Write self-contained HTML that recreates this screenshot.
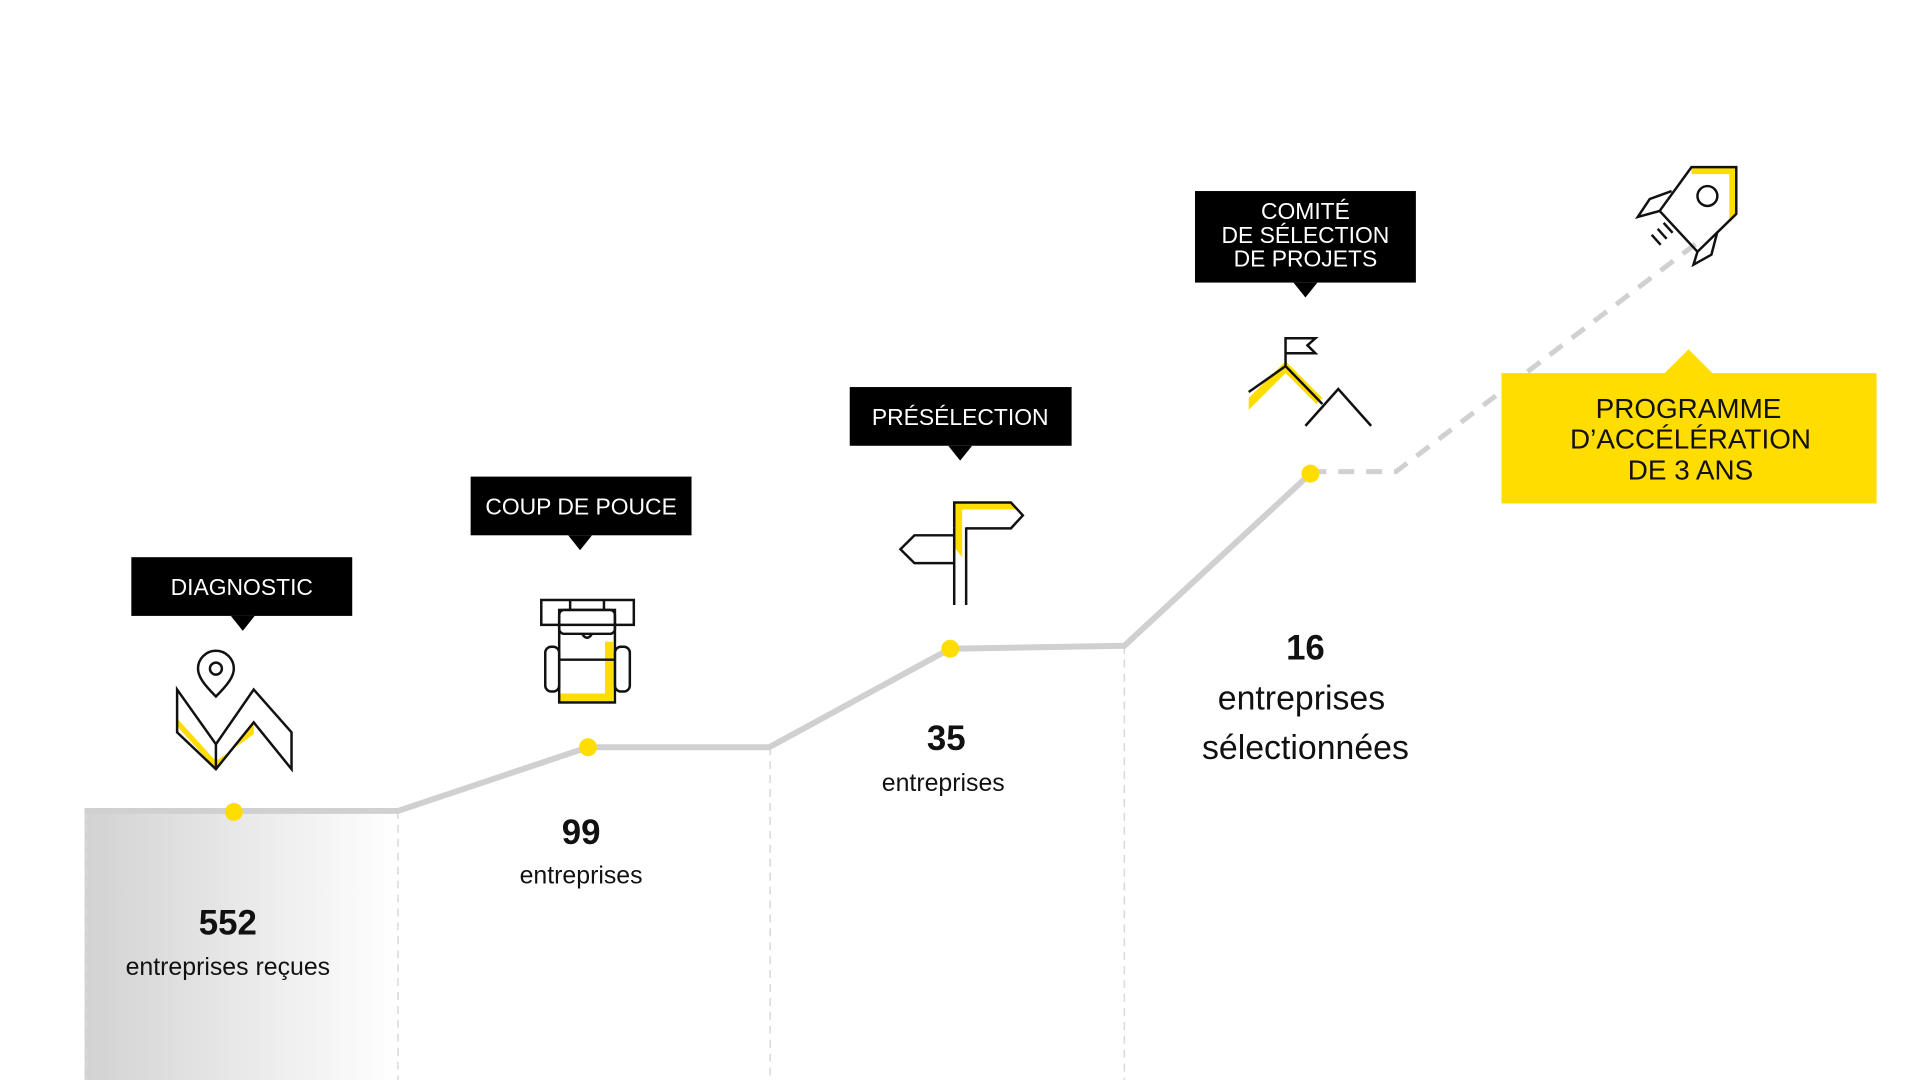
<!DOCTYPE html>
<html><head><meta charset="utf-8"><style>
html,body{margin:0;padding:0;background:#fff;}
svg text{font-family:"Liberation Sans",sans-serif;}
</style></head><body>
<svg width="1920" height="1080" viewBox="0 0 1920 1080" xmlns="http://www.w3.org/2000/svg">
<defs>
<linearGradient id="g" x1="0" x2="1" y1="0" y2="0">
<stop offset="0" stop-color="#d2d2d2"/><stop offset="1" stop-color="#ffffff"/>
</linearGradient>
</defs>
<g transform="scale(0.995)">
<rect x="85" y="815" width="315" height="275" fill="url(#g)"/>
<g stroke="#d8d8d8" stroke-width="1.5" stroke-dasharray="8 6">
<line x1="87" y1="815" x2="87" y2="1090"/>
<line x1="400" y1="815" x2="400" y2="1090"/>
<line x1="774" y1="751" x2="774" y2="1090"/>
<line x1="1130" y1="649" x2="1130" y2="1090"/>
</g>
<polyline points="85,815 400,815 591,751 773,751 955,652 1130,649 1317,476" fill="none" stroke="#d0d0d0" stroke-width="6"/>
<polyline points="1317,474 1403,474 1711,240" fill="none" stroke="#d0d0d0" stroke-width="5" stroke-dasharray="16 12"/>
<g fill="#ffdd00">
<circle cx="235" cy="816" r="9"/><circle cx="591" cy="751" r="9"/><circle cx="955" cy="652" r="9"/><circle cx="1317" cy="476" r="9"/>
</g>
<g fill="#000">
<rect x="132" y="560" width="222" height="59"/><polygon points="232,619 256,619 244,634"/>
<rect x="473" y="479" width="222" height="59"/><polygon points="571,538 595,538 583,553"/>
<rect x="854" y="389" width="223" height="59"/><polygon points="953,448 977,448 965,463"/>
<rect x="1201" y="192" width="222" height="92"/><polygon points="1300,284 1324,284 1312,299"/>
</g>
<g fill="#fff" font-size="23" text-anchor="middle">
<text x="243" y="598">DIAGNOSTIC</text>
<text x="584" y="517">COUP DE POUCE</text>
<text x="965" y="427">PRÉSÉLECTION</text>
<text x="1312" y="220">COMITÉ</text>
<text x="1312" y="244">DE SÉLECTION</text>
<text x="1312" y="268">DE PROJETS</text>
</g>
<rect x="1509" y="375" width="377" height="131" fill="#ffdd00"/>
<polygon points="1672,376 1722,376 1697,351" fill="#ffdd00"/>
<g fill="#111" font-size="28" text-anchor="middle">
<text x="1697" y="420">PROGRAMME</text>
<text x="1699" y="451">D’ACCÉLÉRATION</text>
<text x="1699" y="482">DE 3 ANS</text>
</g>
<g fill="#111" text-anchor="middle">
<text x="229" y="939" font-size="35" font-weight="bold">552</text>
<text x="229" y="980" font-size="25">entreprises reçues</text>
<text x="584" y="848" font-size="35" font-weight="bold">99</text>
<text x="584" y="888" font-size="25">entreprises</text>
<text x="951" y="754" font-size="35" font-weight="bold">35</text>
<text x="948" y="795" font-size="25">entreprises</text>
<text x="1312" y="663" font-size="35" font-weight="bold">16</text>
<text x="1308" y="713" font-size="34">entreprises</text>
<text x="1312" y="763" font-size="34">sélectionnées</text>
</g>
<polygon points="178,730 217,773 255,726 255,738 217,765 178,722" fill="#ffdd00"/>
<g fill="none" stroke="#111" stroke-width="2.5">
<polygon points="178,693 217,748 255,693 293,736 293,773 255,726 217,773 178,736"/>
<line x1="217" y1="748" x2="217" y2="773"/>
<path d="M217,700 C205,688 199,680 199,672 A18,18 0 0 1 235,672 C235,680 229,688 217,700 Z"/>
<circle cx="217" cy="672" r="6"/>
</g>
<polygon points="608,645 616,645 616,705 562,705 562,697 608,697" fill="#ffdd00"/>
<g fill="none" stroke="#111" stroke-width="2.5">
<rect x="544" y="603" width="93" height="25"/>
<rect x="562" y="613" width="56" height="93"/>
<rect x="562" y="613" width="56" height="24" rx="5"/>
<rect x="548" y="650" width="14" height="45" rx="6"/>
<rect x="618" y="650" width="15" height="45" rx="6"/>
<line x1="562" y1="663" x2="618" y2="663"/>
<path d="M585,637 q5,8 10,0"/>
<line x1="573" y1="603" x2="573" y2="613"/><line x1="607" y1="603" x2="607" y2="613"/>
</g>
<polygon points="959,505 1018,505 1023,512 967,512 967,560 959,550" fill="#ffdd00"/>
<g fill="none" stroke="#111" stroke-width="2.5">
<line x1="959" y1="530" x2="959" y2="608"/><line x1="971" y1="530" x2="971" y2="608"/>
<polyline points="959,530 959,505 1016,505 1028,518 1016,531 971,531"/>
<polyline points="959,538 919,538 905,552 919,566 959,566"/>
</g>
<polygon points="1255,400 1292,363 1329,400 1323,406 1292,375 1255,412" fill="#ffdd00"/>
<g fill="none" stroke="#111" stroke-width="2.5">
<polyline points="1292,368 1292,340 1322,340 1314,347 1322,355 1292,355"/>
<polyline points="1255,394 1292,368 1329,406"/>
<polyline points="1312,428 1345,391 1378,428"/>
</g>
<polygon points="1700,168 1745,168 1745,215 1738,220 1738,175 1700,175" fill="#ffdd00"/>
<g fill="none" stroke="#111" stroke-width="2.5">
<polygon points="1700,168 1745,168 1745,215 1706,253 1668,212"/>
<circle cx="1716" cy="197" r="10"/>
<polyline points="1680,192 1658,200 1646,218 1668,212"/>
<polyline points="1726,233 1720,256 1702,266 1706,253"/>
<line x1="1666" y1="230" x2="1675" y2="240"/><line x1="1672" y1="224" x2="1681" y2="234"/><line x1="1660" y1="236" x2="1669" y2="246"/>
</g>
</g>
</svg>
</body></html>
